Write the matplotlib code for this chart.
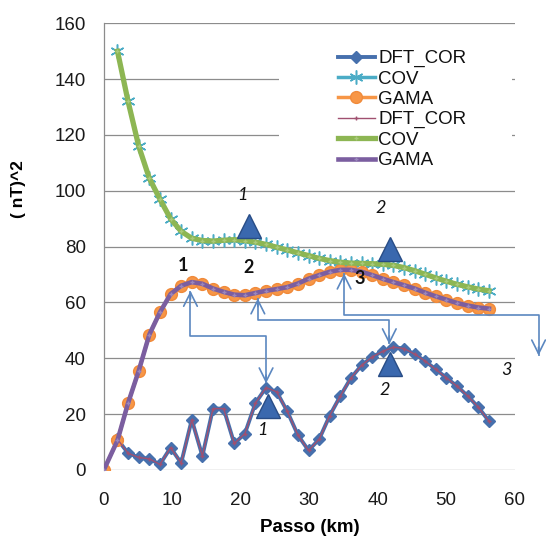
import matplotlib
matplotlib.use('Agg')
import matplotlib.pyplot as plt
from matplotlib.patches import Rectangle
from matplotlib import font_manager

# ---------------- data ----------------
lag = [0, 2.0, 3.55, 5.1, 6.65, 8.2, 9.75, 11.3, 12.85, 14.4, 15.95, 17.5, 19.05,
       20.6, 22.15, 23.7, 25.25, 26.8, 28.35, 29.9, 31.45, 33.0, 34.55, 36.1,
       37.65, 39.2, 40.75, 42.3, 43.85, 45.4, 46.95, 48.5, 50.05, 51.6, 53.15,
       54.7, 56.25]
gama = [0, 10.6, 24, 35.5, 48.5, 56.5, 63, 66, 67.3, 66.7, 65, 63.8, 62.8, 62.6,
        63.4, 64.2, 64.8, 65.5, 66.8, 68.5, 69.8, 71, 71.7, 71.7, 71, 69.8, 68.5,
        67.3, 66.2, 65, 63.5, 62.2, 61, 59.8, 58.9, 58.2, 57.8]
cov = [150, 132, 116, 104.5, 97, 90, 85.5, 83, 82.2, 82, 82.3, 82.5, 82.2, 81.6,
       80.8, 79.8, 78.8, 77.8, 76.8, 75.8, 75, 74.4, 74.1, 74, 73.9, 73.7, 73.3,
       72.5, 71.4, 70.1, 68.8, 67.6, 66.5, 65.6, 64.8, 64.2]
dft = [11, 6, 4.5, 4, 2, 8, 2.5, 18, 5, 22, 22, 9.5, 13, 24, 29.5, 28, 21, 12.5,
       7, 11, 19.5, 26.5, 33, 37.5, 40.5, 42.5, 44, 43.5, 41.5, 39, 36, 33, 30,
       26.5, 22.5, 17.5]

series_names = ['DFT_COR', 'COV', 'GAMA']
x_ticks = [0, 10, 20, 30, 40, 50, 60]
y_ticks = [0, 20, 40, 60, 80, 100, 120, 140, 160]

# annotation triangles
tri_x = [21.2, 41.8, 24.0, 41.8]
tri_y = [87.5, 79.0, 23.0, 38.0]
# italic labels
ital_x = [20.2, 40.5, 23.2, 41.0, 58.8]
ital_y = [98.5, 93.8, 14.3, 28.7, 35.9]
ital_t = ['1', '2', '1', '2', '3']
# bold labels
bold_x = [11.6, 21.1, 37.4]
bold_y = [73.3, 72.6, 68.6]
bold_t = ['1', '2', '3']
# arrows (polylines, double-headed)
arrows = [
    [(12.66, 64.2), (12.66, 48.0), (23.7, 48.0), (23.7, 31.0)],
    [(22.5, 61.5), (22.5, 53.6), (41.7, 53.6), (41.7, 45.0)],
    [(35.1, 70.4), (35.1, 55.5), (63.5, 55.5), (63.5, 41.0)],
]


def has_font(name):
    try:
        font_manager.findfont(name, fallback_to_default=False)
        return True
    except Exception:
        return False


narrow = 'Liberation Sans Narrow' if has_font('Liberation Sans Narrow') else 'Liberation Sans'
numfont = 'Lato' if has_font('Lato') else 'DejaVu Sans'

fig = plt.figure(figsize=(5.46, 5.46), dpi=100)
ax = fig.add_axes([0.1901, 0.1392, 0.7524, 0.8181])
ax.set_xlim(0, 60)
ax.set_ylim(0, 160)
ax.set_xticks(x_ticks)
ax.set_yticks(y_ticks)
ax.set_xticklabels([str(v) for v in x_ticks], family=narrow, fontsize=13.5)
ax.set_yticklabels([str(v) for v in y_ticks], family=narrow, fontsize=13.5)
ax.tick_params(axis='both', length=0, colors='#1a1a1a')
ax.tick_params(axis='y', pad=13)
ax.tick_params(axis='x', pad=16)
for s in ['top', 'right', 'bottom']:
    ax.spines[s].set_visible(False)
ax.spines['left'].set_color('#8c8c8c')
ax.spines['left'].set_linewidth(0.9)
ax.grid(axis='y', color='#8c8c8c', linewidth=0.9)
ax.set_axisbelow(True)

# white box behind legend (hides grid)
ax.add_patch(Rectangle((0.4265, 0.6425), 0.566, 0.338, transform=ax.transAxes,
                       facecolor='white', edgecolor='none', zorder=1))

# first set of series
ax.plot(lag[1:], dft, color='#4670AD', lw=2.8, marker='D', ms=6.5,
        mfc='#4670AD', mec='#4670AD', label=series_names[0], zorder=3)
ax.plot(lag[1:], cov, color='#4BACC6', lw=2.5, marker=(6, 2, 0), ms=10, mew=1.1,
        label=series_names[1], zorder=3)
ax.plot(lag, gama, color='#F79646', lw=2.5, marker='o', ms=8.5, mec='#F08A3A',
        label=series_names[2], zorder=3)
# second set of series
ax.plot(lag[1:], dft, color='#A05070', lw=1.0, marker='+', ms=2.5,
        label=series_names[0], zorder=4)
ax.plot(lag[1:], cov, color='#8DB653', lw=3.8, marker='+', ms=3, mec='#A9C97A',
        label=series_names[1], zorder=4)
ax.plot(lag, gama, color='#7B5EA0', lw=3.3, marker='+', ms=3, mec='#9A86BC',
        label=series_names[2], zorder=4)

# triangles
ax.plot(tri_x, tri_y, ls='none', marker='^', ms=17, mfc='#3A68AE',
        mec='#284C86', mew=1.0, zorder=6, clip_on=False)

for x, y, t in zip(ital_x, ital_y, ital_t):
    ax.text(x, y, t, style='italic', family=numfont, fontsize=13,
            ha='center', va='center', color='#111111', zorder=7, clip_on=False)
for x, y, t in zip(bold_x, bold_y, bold_t):
    ax.text(x, y, t, fontweight='bold', family=numfont, fontsize=13,
            ha='center', va='center', color='#111111', zorder=7)

acol = '#5B87C0'
for path in arrows:
    xs = [p[0] for p in path]
    ys = [p[1] for p in path]
    ax.plot(xs, ys, color=acol, lw=1.2, zorder=8, clip_on=False,
            solid_capstyle='butt')
    for tip, prev in [(path[0], path[1]), (path[-1], path[-2])]:
        dx = prev[0] - tip[0]
        dy = prev[1] - tip[1]
        n = (dx ** 2 + dy ** 2) ** 0.5
        src = (tip[0] + dx / n * 3, tip[1] + dy / n * 3)
        ax.annotate('', xy=tip, xytext=src, annotation_clip=False,
                    arrowprops=dict(arrowstyle='->,head_length=0.7,head_width=0.35',
                                    color=acol, lw=1.2, shrinkA=0, shrinkB=0,
                                    mutation_scale=14), zorder=8)

leg = ax.legend(loc='upper left', bbox_to_anchor=(337.7 / 546, 1 - 50 / 546),
                bbox_transform=fig.transFigure, frameon=False, borderpad=0,
                borderaxespad=0, handlelength=2.0, handletextpad=0.15,
                labelspacing=0.17, prop={'family': narrow, 'size': 13.5})
leg.set_zorder(10)
for t in leg.get_texts():
    t.set_color('#111111')

fig.text(18.3 / 546, 1 - 189 / 546, '( nT)^2', rotation=90, ha='center',
         va='center', fontweight='bold', family='Liberation Sans', fontsize=12.5)
fig.text(310 / 546, 1 - 528 / 546, 'Passo (km)', ha='center', va='center',
         fontweight='bold', family=narrow, fontsize=13.5)

fig.savefig('out.png', dpi=100)
